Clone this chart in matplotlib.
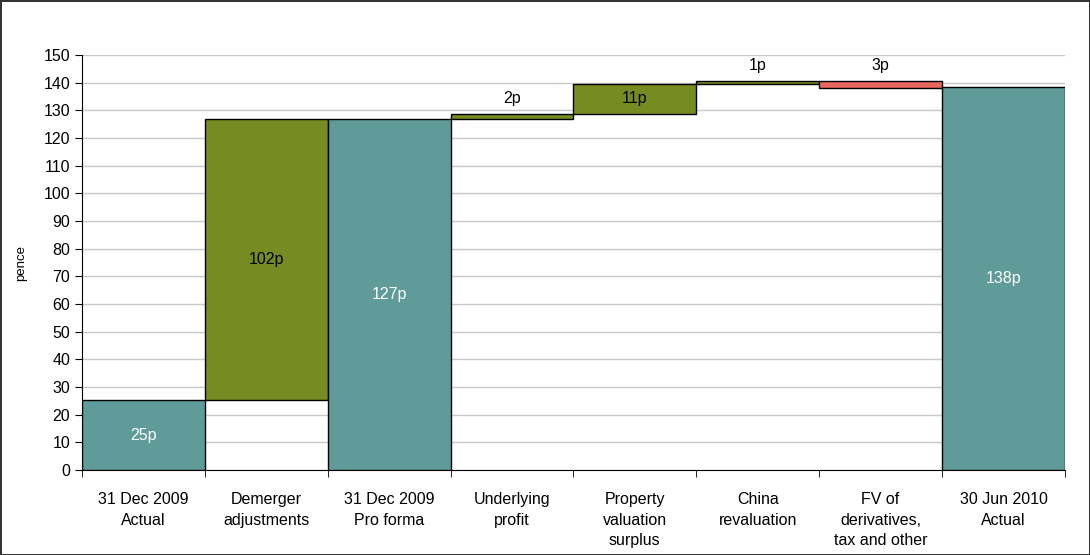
import matplotlib.pyplot as plt
import numpy as np

plt.rcParams['font.family'] = ['Liberation Sans', 'DejaVu Sans']

categories = ["31 Dec 2009\nActual", "Demerger\nadjustments", "31 Dec 2009\nPro forma",
              "Underlying\nprofit", "Property\nvaluation\nsurplus", "China\nrevaluation",
              "FV of\nderivatives,\ntax and other", "30 Jun 2010\nActual"]
# bottom and top of each bar (pence)
bottoms = [0, 25.3, 0, 127.0, 128.6, 139.6, 138.0, 0]
tops = [25.3, 127.0, 127.0, 128.6, 139.6, 140.5, 140.5, 138.3]
labels = ["25p", "102p", "127p", "2p", "11p", "1p", "3p", "138p"]
kinds = ["total", "up", "total", "up", "up", "up", "down", "total"]

colors = {"total": "#5F9B99", "up": "#768B22", "down": "#E8675E"}

fig = plt.figure(figsize=(10.9, 5.55), dpi=100)
fig.patch.set_edgecolor("#333333")
fig.patch.set_linewidth(1.0)
ax = fig.add_axes([0.0752, 0.153, 0.9018, 0.748])

x = np.arange(len(categories))
heights = np.array(tops) - np.array(bottoms)
ax.bar(x, heights, bottom=bottoms, width=1.0,
       color=[colors[k] for k in kinds], edgecolor="black", linewidth=1.0, zorder=3)

for i in range(len(x)):
    h = heights[i]
    if h > 8:
        c = "white" if kinds[i] == "total" else "black"
        ax.text(x[i], bottoms[i] + h / 2, labels[i], ha="center", va="center",
                fontsize=11.5, color=c, zorder=4)
    else:
        ax.text(x[i], tops[i] + 2.8, labels[i], ha="center", va="bottom",
                fontsize=11.5, color="black", zorder=4)

ax.set_xlim(-0.5, len(categories) - 0.5)
ax.set_ylim(0, 150)
ax.set_yticks(range(0, 151, 10))
ax.yaxis.grid(True, color="#C8C8C8", linewidth=1.0, zorder=0)
ax.set_axisbelow(True)

ax.set_xticks(x)
ax.set_xticklabels(categories, fontsize=11.5, linespacing=1.45)
ax.set_xticks(np.arange(-0.5, len(categories), 1.0), minor=True)
ax.tick_params(axis="x", which="major", length=0, pad=16)
ax.tick_params(axis="x", which="minor", length=5, direction="out")
ax.tick_params(axis="y", length=5, direction="out", labelsize=11.5)
for t in ax.get_xticklabels():
    t.set_verticalalignment("top")

ax.spines["top"].set_visible(False)
ax.spines["right"].set_visible(False)
ax.set_ylabel("pence", fontsize=9.5, labelpad=12)

fig.savefig("out.png", dpi=100, edgecolor=fig.get_edgecolor())
